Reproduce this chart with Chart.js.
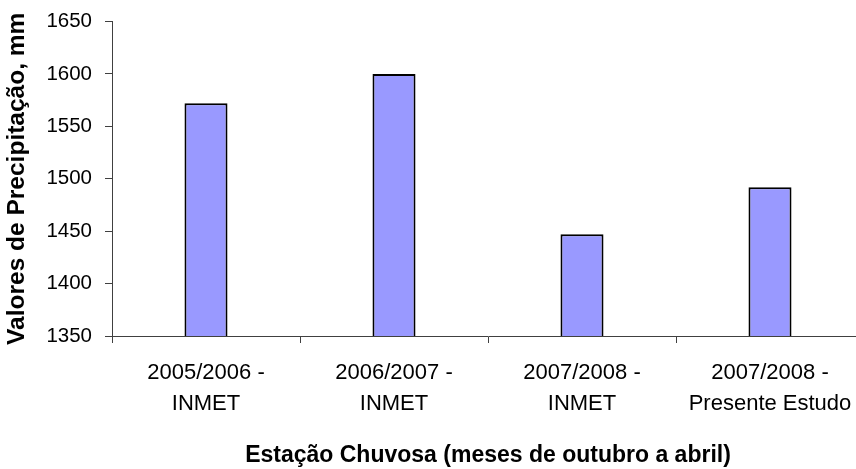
<!DOCTYPE html>
<html>
<head>
<meta charset="utf-8">
<script src="https://cdn.jsdelivr.net/npm/chart.js@4/dist/chart.umd.min.js"></script>
<style>
    html, body { margin: 0; padding: 0; background: #fff; overflow: hidden; }
    #wrap { position: absolute; left: 0; top: 0; width: 880px; height: 469px; }
</style>
</head>
<body>
<div id="wrap"><canvas id="rain-chart"></canvas></div>
<script>
// Rainy season totals (October to April)
const seasons = [
    ['2005/2006 -', 'INMET'],
    ['2006/2007 -', 'INMET'],
    ['2007/2008 -', 'INMET'],
    ['2007/2008 -', 'Presente Estudo']
];
const rainfall = [1572, 1600, 1447, 1492];
const yTicks = [1350, 1400, 1450, 1500, 1550, 1600, 1650];

const FONT = 'Arial, "Liberation Sans", sans-serif';
const AXIS_COLOR = '#404040';

Chart.defaults.font.family = FONT;
Chart.defaults.color = '#000';

const ctx = document.getElementById('rain-chart');

new Chart(ctx, {
    type: 'bar',
    data: {
        labels: seasons,
        datasets: [{
            label: 'Precipitação',
            data: rainfall,
            backgroundColor: '#9999ff',
            borderColor: '#000',
            borderWidth: 2,
            borderSkipped: false,
            categoryPercentage: 1,
            barPercentage: 0.229
        }]
    },
    options: {
        responsive: true,
        maintainAspectRatio: false,
        animation: false,
        layout: {
            padding: { left: 0, top: 21.5, right: 16, bottom: 0 }
        },
        plugins: {
            legend: { display: false },
            tooltip: { enabled: false }
        },
        scales: {
            x: {
                offset: true,
                grid: {
                    offset: true,
                    drawOnChartArea: false,
                    tickLength: 7,
                    color: AXIS_COLOR
                },
                border: { color: AXIS_COLOR, width: 1 },
                ticks: {
                    font: { size: 22, lineHeight: 1.41 },
                    padding: 14,
                    maxRotation: 0,
                    autoSkip: false
                },
                title: {
                    display: true,
                    text: 'Estação Chuvosa (meses de outubro a abril)',
                    font: { size: 23, weight: 'bold' },
                    padding: { top: 0, bottom: 0 }
                },
                afterFit: function(scale) {
                    scale.height = 133;
                }
            },
            y: {
                min: yTicks[0],
                max: yTicks[yTicks.length - 1],
                afterBuildTicks: function(scale) {
                    scale.ticks = yTicks.map(v => ({ value: v }));
                },
                grid: {
                    drawOnChartArea: false,
                    tickLength: 7,
                    color: AXIS_COLOR
                },
                border: { color: AXIS_COLOR, width: 1 },
                ticks: {
                    font: { size: 20.5 },
                    padding: 13,
                    callback: function(value) {
                        return String(value);
                    }
                },
                title: {
                    display: true,
                    text: 'Valores de Precipitação, mm',
                    font: { size: 24.5, weight: 'bold' },
                    padding: { top: 3, bottom: 0 }
                },
                afterFit: function(scale) {
                    // fixed axis width; let layout padding alone set the top edge
                    scale.width = 112;
                    scale.paddingTop = 0;
                    scale.paddingBottom = 0;
                }
            }
        }
    }
});
</script>
</body>
</html>
